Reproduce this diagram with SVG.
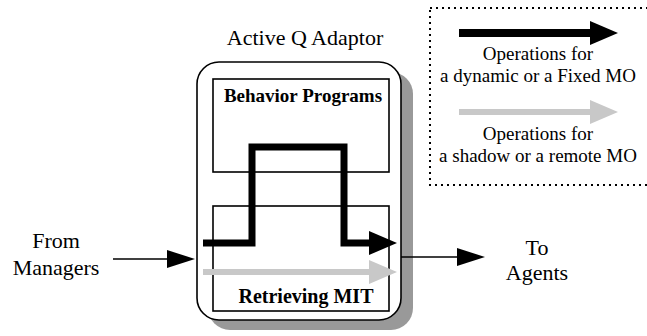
<svg xmlns="http://www.w3.org/2000/svg" width="647" height="336" viewBox="0 0 647 336">
  <defs>
    <style>
      text { font-family: "Liberation Serif", "Times New Roman", serif; fill: #000; }
      .label { font-size: 22px; text-anchor: middle; }
      .title { font-size: 19px; font-weight: bold; text-anchor: middle; }
      .legend-text { font-size: 19px; text-anchor: middle; }
      .box { fill: #fff; stroke: #000; stroke-width: 1.6; }
      .thin { fill: none; stroke: #000; stroke-width: 1.6; }
      .op-fixed { fill: none; stroke: #000; stroke-width: 7; stroke-linejoin: miter; }
      .op-remote { fill: none; stroke: #c8c8c8; stroke-width: 6; }
    </style>
    <marker id="head-thin" markerUnits="userSpaceOnUse" markerWidth="28" markerHeight="18" refX="2" refY="9" orient="auto">
      <path d="M0,0 L28,9 L0,18 Z" fill="#000"/>
    </marker>
    <marker id="head-black" markerUnits="userSpaceOnUse" markerWidth="28" markerHeight="24" refX="2" refY="12" orient="auto">
      <path d="M0,0 L28,12 L0,24 Z" fill="#000"/>
    </marker>
    <marker id="head-gray" markerUnits="userSpaceOnUse" markerWidth="28" markerHeight="24" refX="2" refY="12" orient="auto">
      <path d="M0,0 L28,12 L0,24 Z" fill="#c8c8c8"/>
    </marker>
  </defs>

  <rect width="647" height="336" fill="#fff"/>

  <!-- Adaptor container with drop shadow -->
  <g id="active-q-adaptor">
    <rect x="208" y="72" width="205" height="258" rx="22" fill="#999"/>
    <rect class="box" x="197" y="62" width="204" height="258" rx="22"/>
    <text class="label" x="305" y="45">Active Q Adaptor</text>
  </g>

  <g id="behavior-programs">
    <rect class="box" x="213" y="79" width="176" height="93"/>
    <text class="title" x="303" y="102">Behavior Programs</text>
  </g>

  <g id="retrieving-mit">
    <rect class="box" x="213" y="206" width="176" height="105"/>
    <text class="title" x="306" y="303" style="font-size:20px">Retrieving MIT</text>
  </g>

  <g id="from-managers">
    <text class="label" x="56" y="248">From</text>
    <text class="label" x="56" y="275">Managers</text>
  </g>

  <g id="to-agents">
    <text class="label" x="537" y="255">To</text>
    <text class="label" x="537" y="280">Agents</text>
  </g>

  <!-- Connectors -->
  <g id="connectors">
    <line class="thin" x1="113" y1="259" x2="169" y2="259" marker-end="url(#head-thin)"/>
    <line class="thin" x1="401" y1="257" x2="459" y2="257" marker-end="url(#head-thin)"/>
    <path class="op-fixed" d="M203,243 H252 V147 H344 V243 H371" marker-end="url(#head-black)"/>
    <line class="op-remote" x1="203" y1="272" x2="371" y2="272" marker-end="url(#head-gray)"/>
  </g>

  <!-- Legend -->
  <g id="legend">
    <rect x="430" y="8" width="230" height="177" fill="none" stroke="#000" stroke-width="2" stroke-dasharray="2 4"/>
    <line class="op-fixed" x1="459" y1="33" x2="592" y2="33" style="stroke-width:8" marker-end="url(#head-black)"/>
    <text class="legend-text" x="538" y="60">Operations for</text>
    <text class="legend-text" x="538" y="82">a dynamic or a Fixed MO</text>
    <line class="op-remote" x1="459" y1="112" x2="592" y2="112" marker-end="url(#head-gray)"/>
    <text class="legend-text" x="538" y="140">Operations for</text>
    <text class="legend-text" x="538" y="162">a shadow or a remote MO</text>
  </g>
</svg>
